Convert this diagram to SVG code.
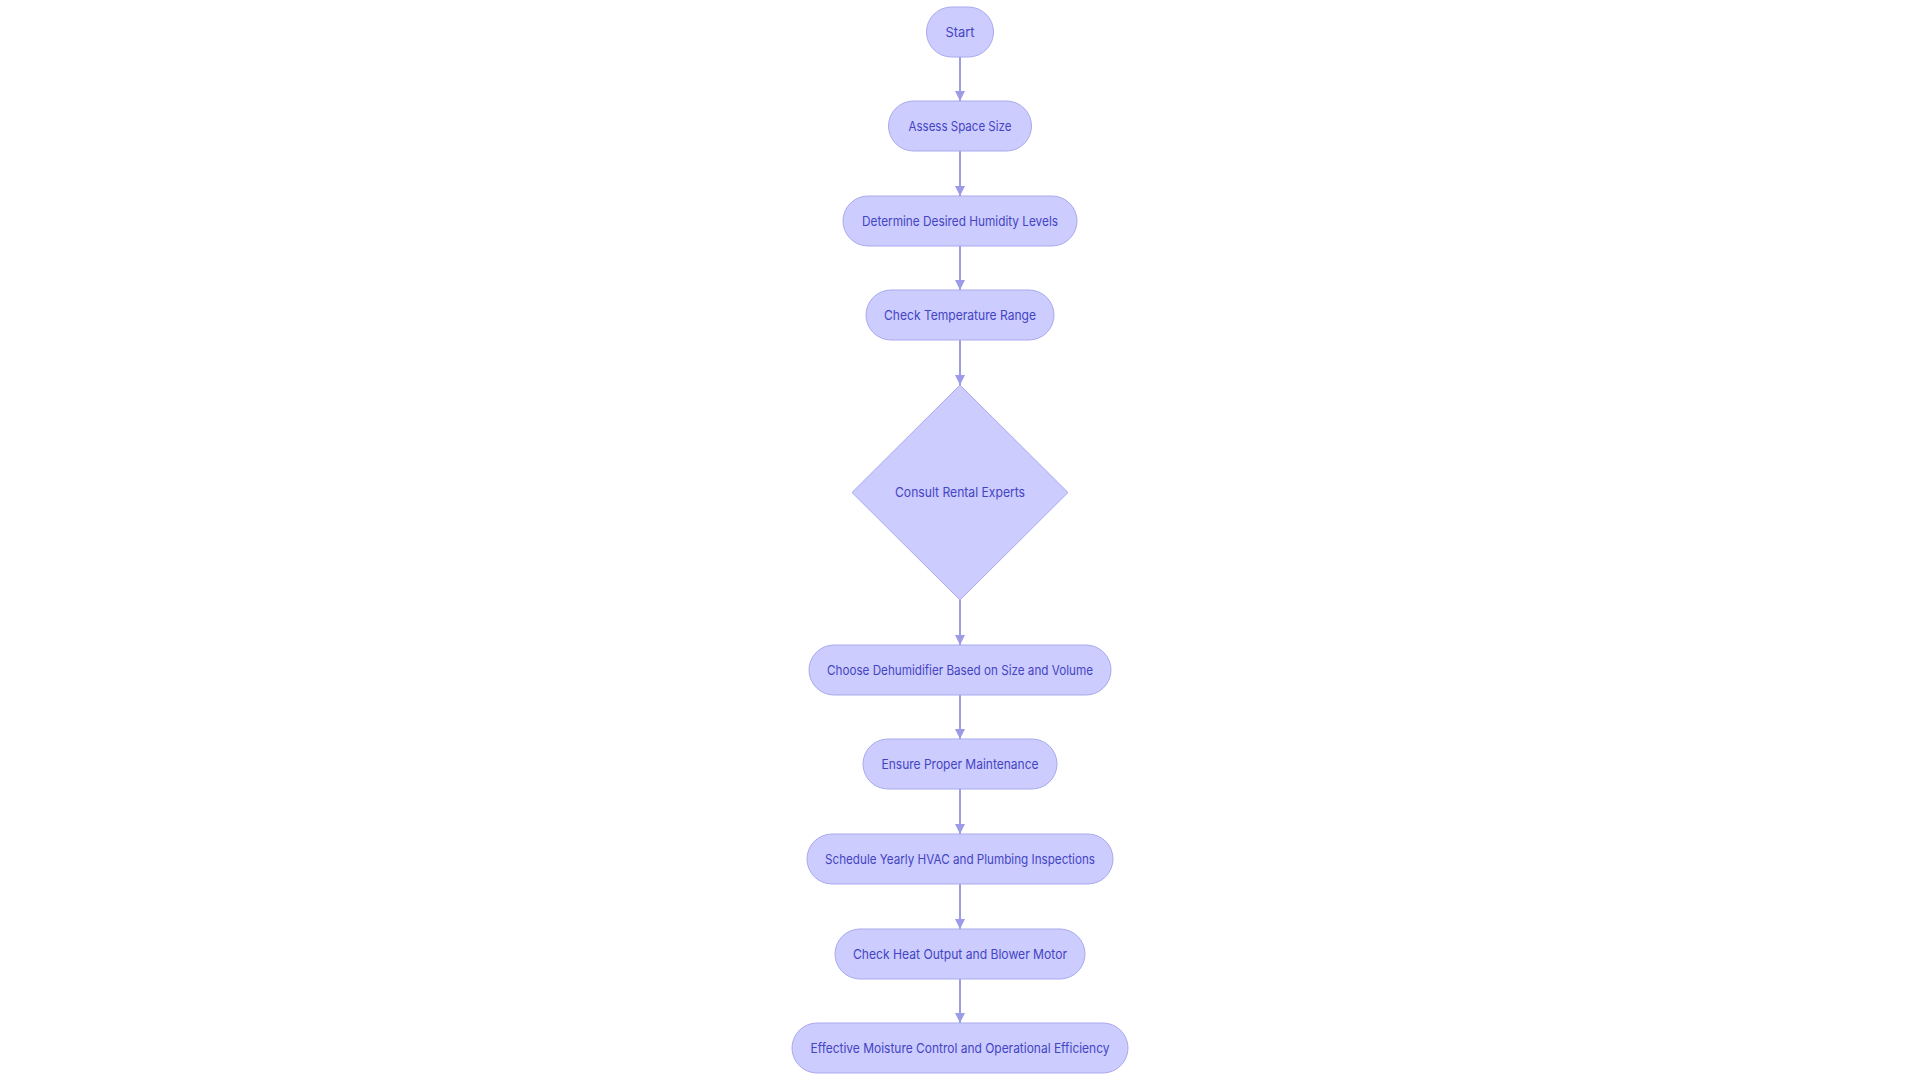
<svg xmlns="http://www.w3.org/2000/svg" width="1920" height="1080" viewBox="0 0 1920 1080">
<style>
.node rect, .node polygon { fill: #ccccff; stroke: #a9a9ee; stroke-width: 1; }
.node text { font-family: Inter, "Liberation Sans", sans-serif; font-size: 13.5px; font-weight: 400; fill: #4444c2; text-anchor: middle; }
.edge { stroke: #9b9be6; stroke-width: 2; fill: none; }
</style>
<defs>
<marker id="arrow" viewBox="0 0 10 10" refX="10" refY="5" markerWidth="10" markerHeight="10" markerUnits="userSpaceOnUse" orient="auto">
<path d="M0,0 L10,5 L0,10 z" fill="#9b9be6"/>
</marker>
</defs>
<rect width="1920" height="1080" fill="#ffffff"/>
<g id="connectors">
<line class="edge" x1="960" y1="57" x2="960" y2="101" marker-end="url(#arrow)"/>
<line class="edge" x1="960" y1="151" x2="960" y2="196" marker-end="url(#arrow)"/>
<line class="edge" x1="960" y1="246" x2="960" y2="290" marker-end="url(#arrow)"/>
<line class="edge" x1="960" y1="340" x2="960" y2="385" marker-end="url(#arrow)"/>
<line class="edge" x1="960" y1="600" x2="960" y2="645" marker-end="url(#arrow)"/>
<line class="edge" x1="960" y1="695" x2="960" y2="739" marker-end="url(#arrow)"/>
<line class="edge" x1="960" y1="789" x2="960" y2="834" marker-end="url(#arrow)"/>
<line class="edge" x1="960" y1="884" x2="960" y2="929" marker-end="url(#arrow)"/>
<line class="edge" x1="960" y1="979" x2="960" y2="1023" marker-end="url(#arrow)"/>
</g>
<g id="start" class="node">
<rect x="926.5" y="7" width="67" height="50" rx="25" ry="25"/>
<text x="960" y="36.5" textLength="29" lengthAdjust="spacingAndGlyphs">Start</text>
</g>
<g id="assess" class="node">
<rect x="888.5" y="101" width="143" height="50" rx="25" ry="25"/>
<text x="960" y="130.5" textLength="103" lengthAdjust="spacingAndGlyphs">Assess Space Size</text>
</g>
<g id="determine" class="node">
<rect x="843" y="196" width="234" height="50" rx="25" ry="25"/>
<text x="960" y="225.5" textLength="196" lengthAdjust="spacingAndGlyphs">Determine Desired Humidity Levels</text>
</g>
<g id="checktemp" class="node">
<rect x="866" y="290" width="188" height="50" rx="25" ry="25"/>
<text x="960" y="319.5" textLength="152" lengthAdjust="spacingAndGlyphs">Check Temperature Range</text>
</g>
<g id="consult" class="node">
<polygon points="960,385 1068,492.5 960,600 852,492.5"/>
<text x="960" y="497" textLength="130" lengthAdjust="spacingAndGlyphs">Consult Rental Experts</text>
</g>
<g id="choose" class="node">
<rect x="809" y="645" width="302" height="50" rx="25" ry="25"/>
<text x="960" y="674.5" textLength="266" lengthAdjust="spacingAndGlyphs">Choose Dehumidifier Based on Size and Volume</text>
</g>
<g id="ensure" class="node">
<rect x="863" y="739" width="194" height="50" rx="25" ry="25"/>
<text x="960" y="768.5" textLength="157" lengthAdjust="spacingAndGlyphs">Ensure Proper Maintenance</text>
</g>
<g id="schedule" class="node">
<rect x="807" y="834" width="306" height="50" rx="25" ry="25"/>
<text x="960" y="863.5" textLength="270" lengthAdjust="spacingAndGlyphs">Schedule Yearly HVAC and Plumbing Inspections</text>
</g>
<g id="checkheat" class="node">
<rect x="835" y="929" width="250" height="50" rx="25" ry="25"/>
<text x="960" y="958.5" textLength="214" lengthAdjust="spacingAndGlyphs">Check Heat Output and Blower Motor</text>
</g>
<g id="effective" class="node">
<rect x="792" y="1023" width="336" height="50" rx="25" ry="25"/>
<text x="960" y="1052.5" textLength="299" lengthAdjust="spacingAndGlyphs">Effective Moisture Control and Operational Efficiency</text>
</g>
</svg>
